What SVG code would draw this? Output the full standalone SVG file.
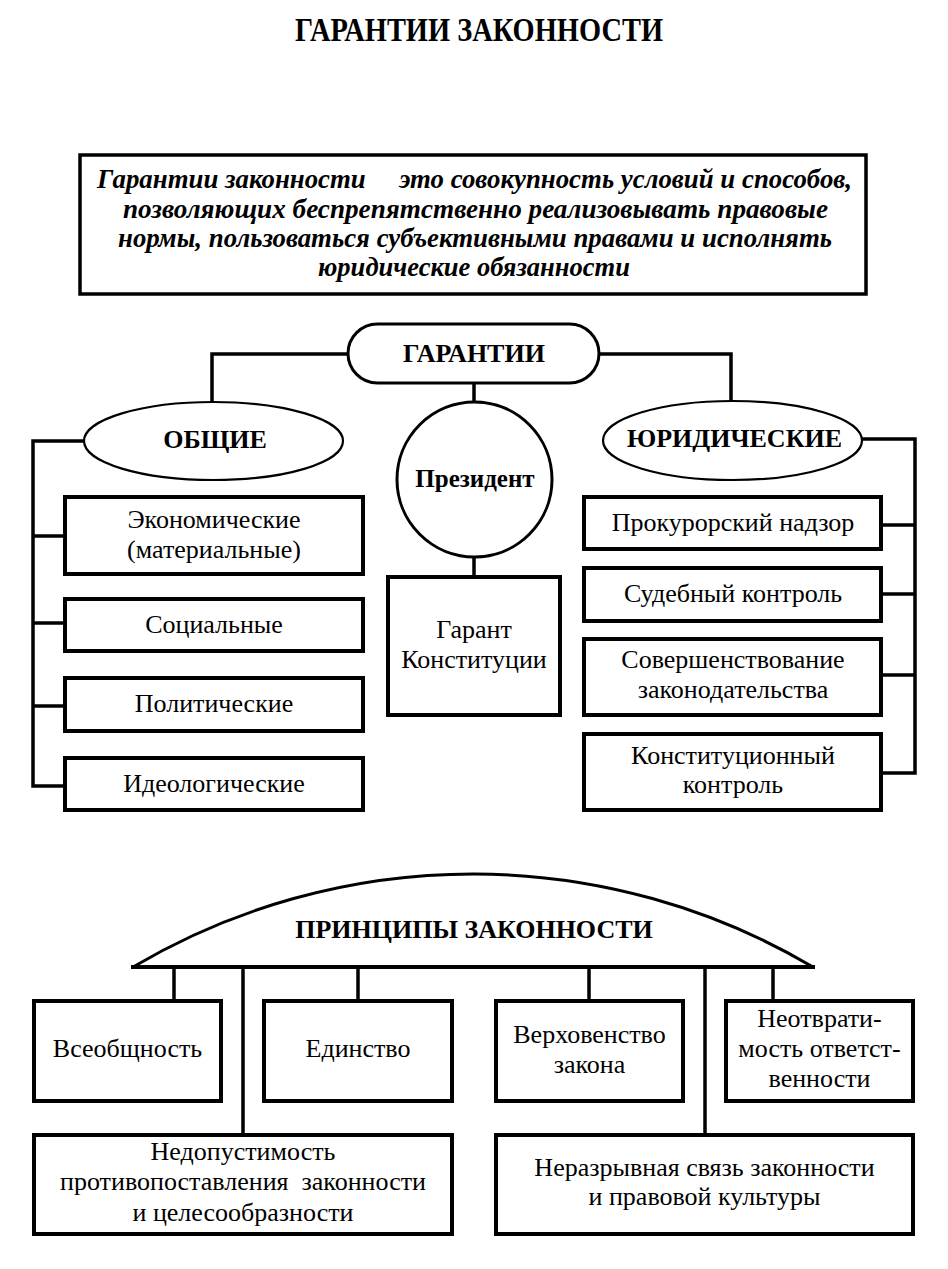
<svg xmlns="http://www.w3.org/2000/svg" width="948" height="1269" viewBox="0 0 948 1269">
<style>
.box{fill:#fff;stroke:#000;stroke-width:4}
.thin{fill:#fff;stroke:#000;stroke-width:2.2}
.mid{fill:#fff;stroke:#000;stroke-width:3}
.conn{fill:none;stroke:#000;stroke-width:3.5}
.t{font-family:"Liberation Serif","Times New Roman",serif;font-size:26px;fill:#000;text-anchor:middle}
.b{font-family:"Liberation Serif","Times New Roman",serif;font-size:26px;font-weight:bold;fill:#000;text-anchor:middle}
.def{font-family:"Liberation Serif","Times New Roman",serif;font-size:27px;font-weight:bold;font-style:italic;fill:#000;text-anchor:middle}
</style>
<rect width="948" height="1269" fill="#fff"/>

<g id="title">
<text class="b" x="479" y="41" style="font-size:34px" textLength="368" lengthAdjust="spacingAndGlyphs">ГАРАНТИИ ЗАКОННОСТИ</text>
</g>

<g id="definition">
<rect class="box" x="80" y="155" width="786" height="139" style="stroke-width:3.5"/>
<text class="def" x="474.5" y="188" textLength="755" lengthAdjust="spacingAndGlyphs" xml:space="preserve">Гарантии законности     это совокупность условий и способов,</text>
<text class="def" x="475.5" y="218" textLength="705" lengthAdjust="spacingAndGlyphs">позволяющих беспрепятственно реализовывать правовые</text>
<text class="def" x="475" y="247" textLength="714" lengthAdjust="spacingAndGlyphs">нормы, пользоваться субъективными правами и исполнять</text>
<text class="def" x="474" y="276" textLength="312" lengthAdjust="spacingAndGlyphs">юридические обязанности</text>
</g>

<g id="connectors">
<polyline class="conn" points="348,354 212,354 212,402"/>
<polyline class="conn" points="599,354 731,354 731,401"/>
<line class="conn" x1="474" y1="383" x2="474" y2="402"/>
<line class="conn" x1="474" y1="557" x2="474" y2="577"/>
<polyline class="conn" points="84,441 33,441 33,786 65,786"/>
<line class="conn" x1="33" y1="536" x2="65" y2="536"/>
<line class="conn" x1="33" y1="623" x2="65" y2="623"/>
<line class="conn" x1="33" y1="706" x2="65" y2="706"/>
<polyline class="conn" points="862,439 915,439 915,773 881,773"/>
<line class="conn" x1="881" y1="525" x2="915" y2="525"/>
<line class="conn" x1="881" y1="594" x2="915" y2="594"/>
<line class="conn" x1="881" y1="675" x2="915" y2="675"/>
<line class="conn" x1="174" y1="967" x2="174" y2="1001"/>
<line class="conn" x1="358" y1="967" x2="358" y2="1001"/>
<line class="conn" x1="589" y1="967" x2="589" y2="1001"/>
<line class="conn" x1="773" y1="967" x2="773" y2="1001"/>
<line class="conn" x1="243" y1="967" x2="243" y2="1135"/>
<line class="conn" x1="705" y1="967" x2="705" y2="1135"/>
</g>

<g id="garantii">
<rect class="mid" x="348" y="324" width="251" height="59" rx="29.5" ry="29.5"/>
<text class="b" x="474" y="362">ГАРАНТИИ</text>
</g>

<g id="obshchie">
<ellipse class="thin" cx="213.5" cy="441" rx="129.5" ry="39"/>
<text class="b" x="215" y="448">ОБЩИЕ</text>
</g>

<g id="yuridicheskie">
<ellipse class="thin" cx="732.5" cy="440.5" rx="129.5" ry="39.5"/>
<text class="b" x="734.5" y="447">ЮРИДИЧЕСКИЕ</text>
</g>

<g id="prezident">
<circle class="mid" cx="474.5" cy="479.5" r="77.5"/>
<text class="b" x="475" y="487" style="font-size:25px">Президент</text>
</g>

<g id="garant">
<rect class="box" x="388" y="577" width="172" height="138"/>
<text class="t" x="474" y="638">Гарант</text>
<text class="t" x="474" y="668">Конституции</text>
</g>

<g id="ekonomicheskie">
<rect class="box" x="65" y="497" width="298" height="77"/>
<text class="t" x="214" y="528">Экономические</text>
<text class="t" x="214" y="558">(материальные)</text>
</g>
<g id="socialnye">
<rect class="box" x="65" y="599" width="298" height="52"/>
<text class="t" x="214" y="633">Социальные</text>
</g>
<g id="politicheskie">
<rect class="box" x="65" y="678" width="298" height="53"/>
<text class="t" x="214" y="712">Политические</text>
</g>
<g id="ideologicheskie">
<rect class="box" x="65" y="758" width="298" height="52"/>
<text class="t" x="214" y="792">Идеологические</text>
</g>

<g id="prokurorskiy">
<rect class="box" x="584" y="497" width="297" height="52"/>
<text class="t" x="733" y="531">Прокурорский надзор</text>
</g>
<g id="sudebnyy">
<rect class="box" x="584" y="568" width="297" height="53"/>
<text class="t" x="733" y="602">Судебный контроль</text>
</g>
<g id="sovershenstvovanie">
<rect class="box" x="584" y="639" width="297" height="76"/>
<text class="t" x="733" y="668">Совершенствование</text>
<text class="t" x="733" y="698">законодательства</text>
</g>
<g id="konstitucionnyy">
<rect class="box" x="584" y="734" width="297" height="76"/>
<text class="t" x="733" y="764">Конституционный</text>
<text class="t" x="733" y="793">контроль</text>
</g>

<g id="principy">
<path d="M133,967 A668,668 0 0 1 813,967" fill="none" stroke="#000" stroke-width="3"/>
<line x1="131" y1="967" x2="815" y2="967" stroke="#000" stroke-width="4"/>
<text class="b" x="474" y="938">ПРИНЦИПЫ ЗАКОННОСТИ</text>
</g>

<g id="vseobshchnost">
<rect class="box" x="34" y="1001" width="187" height="100"/>
<text class="t" x="127.5" y="1057">Всеобщность</text>
</g>
<g id="edinstvo">
<rect class="box" x="264" y="1001" width="188" height="100"/>
<text class="t" x="358" y="1057">Единство</text>
</g>
<g id="verkhovenstvo">
<rect class="box" x="496" y="1001" width="187" height="100"/>
<text class="t" x="589.5" y="1043">Верховенство</text>
<text class="t" x="589.5" y="1073">закона</text>
</g>
<g id="neotvratimost">
<rect class="box" x="726" y="1001" width="187" height="100"/>
<text class="t" x="819.5" y="1027">Неотврати-</text>
<text class="t" x="819.5" y="1057">мость ответст-</text>
<text class="t" x="819.5" y="1087">венности</text>
</g>
<g id="nedopustimost">
<rect class="box" x="34" y="1135" width="418" height="99"/>
<text class="t" x="243" y="1160">Недопустимость</text>
<text class="t" x="243" y="1190" xml:space="preserve">противопоставления  законности</text>
<text class="t" x="243" y="1221">и целесообразности</text>
</g>
<g id="nerazryvnaya">
<rect class="box" x="496" y="1135" width="417" height="99"/>
<text class="t" x="704.5" y="1176">Неразрывная связь законности</text>
<text class="t" x="704.5" y="1205">и правовой культуры</text>
</g>
</svg>
